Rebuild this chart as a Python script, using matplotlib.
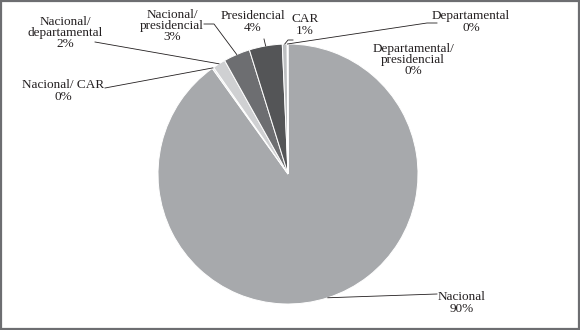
import numpy as np
import matplotlib.pyplot as plt
from matplotlib.patches import Rectangle
from matplotlib.lines import Line2D

# ---------- data ----------
categories = ["Nacional", "Nacional/ CAR", "Nacional/\ndepartamental", "Nacional/\npresidencial",
              "Presidencial", "CAR", "Departamental", "Departamental/\npresidencial"]
shares = [90.1, 0.2, 1.6, 3.3, 4.1, 0.6, 0.05, 0.05]
colors = ["#a7a9ac", "#e0e1e2", "#cfd0d2", "#6d6e71", "#545557", "#bdbfc1", "#939598", "#e6e7e8"]

# label centres and leader paths, in pixels from top-left
label_pos = [(462, 303), (63, 91), (65, 33), (172, 26), (253, 22), (305, 25), (471, 22), (413, 60)]
leader_pts = [
    [(437, 294)],
    [(105, 88)],
    [(95, 42)],
    [(204, 24), (214, 24)],
    [(264, 39)],
    [(293, 40), (288, 40)],
    [(437, 23), (427, 23)],
    None,
]

W, H = 580, 330
cx, cy, r = 288, 174, 130

plt.rcParams['font.family'] = ['Liberation Serif', 'DejaVu Serif']
fig = plt.figure(figsize=(W / 100, H / 100), dpi=100)
ax = fig.add_axes([(cx - r) / W, (H - cy - r) / H, 2 * r / W, 2 * r / H])
wedges, _ = ax.pie(shares, colors=colors, startangle=90, counterclock=False,
                   wedgeprops=dict(edgecolor='white', linewidth=0.7))
ax.set_xlim(-1, 1)
ax.set_ylim(-1, 1)
ax.set_aspect('equal')

# ---------- labels + leader lines ----------
total = sum(shares)
for i, w in enumerate(wedges):
    pct = round(shares[i] / total * 100)
    lx, ly = label_pos[i]
    fig.text(lx / W, 1 - ly / H, f"{categories[i]}\n{pct}%", ha='center', va='center',
             fontsize=9.5, linespacing=0.9, color='#231f20')
    if leader_pts[i] is None:
        continue
    theta = np.deg2rad((w.theta1 + w.theta2) / 2)
    px, py = ax.transData.transform((np.cos(theta), np.sin(theta)))
    pts = leader_pts[i] + [(px, H - py)]
    xs = [p[0] / W for p in pts]
    ys = [1 - p[1] / H for p in pts]
    fig.add_artist(Line2D(xs, ys, transform=fig.transFigure, color='#231f20', lw=0.6))

fig.add_artist(Rectangle((0.002, 0.003), 0.996, 0.994, transform=fig.transFigure,
                         fill=False, edgecolor='#6d6e71', lw=1.6))

fig.savefig("out.png", dpi=100, facecolor='white')
